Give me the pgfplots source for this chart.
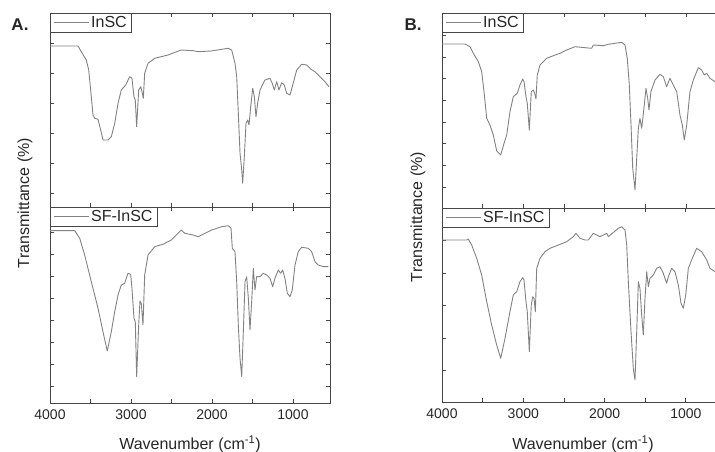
\documentclass[border=0pt]{standalone}
\usepackage{pgfplots}
\pgfplotsset{compat=1.18}
\usepackage{fontspec}
\setmainfont{Liberation Sans}

\definecolor{curve}{RGB}{130,130,130}
\definecolor{frame}{RGB}{70,70,70}

% spectra (wavenumber, transmittance in arbitrary units)
\pgfplotstableread{
wn y
4000 161
3654 161
3614 155.3
3552 147
3522 137
3498 117
3469 92
3448 88.7
3407 87.7
3374 77
3346 67
3284 67
3243 70.3
3201 83.7
3160 103.7
3120 117
3065 122
3016 130.3
2988 128.7
2963 110.3
2947 107
2930 80.3
2905 117
2880 120.3
2864 115.3
2848 108.7
2831 133.7
2790 143.7
2707 148.7
2543 152
2379 157
2235 156.3
2169 155.3
2012 156
1799 158.7
1757 157
1716 143.7
1695 130.3
1675 94
1654 54
1633 37
1621 23.7
1601 50.3
1580 83.7
1559 87
1543 82
1522 100.3
1497 118.7
1477 110.3
1457 90.3
1436 103.7
1407 117
1346 127
1284 128.7
1256 123.7
1231 117
1201 125.3
1173 117
1140 124.3
1107 122
1078 113.7
1037 112
1009 120.3
954 137
893 142.7
831 142
778 137.7
728 135.3
667 130.3
605 125.3
556 120.3
}\AInSC

\pgfplotstableread{
wn y
4000 172.3
3695 172.3
3633 164.7
3572 148
3490 121.3
3407 94.7
3346 71.3
3293 52
3243 71.3
3201 91.3
3160 108
3120 118
3078 119.7
3037 129.7
3004 128.7
2988 114.7
2963 84.7
2947 81.3
2930 26.3
2905 78
2889 102
2873 99.7
2852 78
2831 128
2790 148
2707 156.3
2605 158.7
2502 163
2379 173
2337 169.7
2235 168
2169 166.3
2086 169.7
2004 173
1880 176.3
1799 177.3
1765 174.7
1749 154.7
1716 151.3
1695 121.3
1675 78
1654 44.7
1633 26.3
1613 71.3
1592 121.3
1572 126.3
1551 104.7
1531 73
1510 101.3
1490 134.7
1469 113
1449 126.3
1407 126.3
1367 129.7
1325 128
1284 124.7
1251 116.3
1222 124.7
1181 133
1152 129.7
1127 133
1099 124.7
1070 109.7
1037 106.3
1009 113
975 138
935 151.3
893 155.7
811 154.7
770 151.3
728 141.3
688 138
626 136.3
564 136.3
}\ASFInSC

\pgfplotstableread{
wn y
4000 164
3717 164
3656 161.3
3615 154.7
3553 146.3
3512 136.3
3483 116.3
3450 89.7
3410 83
3369 73
3327 57
3278 53
3237 64.7
3204 73
3164 96.3
3123 111.3
3074 114.7
3041 123
3007 129
2991 126.3
2967 111.3
2951 104.7
2926 78
2902 116.3
2877 118
2860 114.7
2844 109
2828 133
2795 143
2712 149.7
2631 152.3
2549 154.7
2466 158
2364 161.3
2241 160.3
2159 159.7
2139 163
2016 162.3
1954 163.7
1790 165.7
1749 163
1721 149.7
1696 123
1675 83
1654 39.7
1626 18
1605 49.7
1585 79.7
1565 89.7
1544 79.7
1516 99.7
1491 119.7
1470 109.7
1454 98
1430 116.3
1380 128
1319 133.7
1278 131.3
1237 121.3
1196 129.7
1155 123
1113 116.3
1073 93
1044 83
1020 68
990 83
950 116.3
909 128
847 140.3
806 138
774 133
744 134.7
704 129.7
642 126.3
}\BInSC

\pgfplotstableread{
wn y
4000 162
3696 162
3677 163
3635 157
3573 143.7
3512 127
3450 100.3
3389 77
3327 57
3278 43.7
3225 63.7
3164 90.3
3123 107
3081 110.3
3041 120.3
3007 124.3
2991 122
2967 100.3
2951 90.3
2926 50.3
2902 97
2885 105.3
2868 103.7
2852 90.3
2835 133.7
2795 143.7
2733 150.3
2672 153.7
2589 156.3
2466 160.3
2385 165.3
2352 168.7
2303 163.7
2241 162
2200 162
2139 168.7
2057 165.3
1974 168.7
1954 165.3
1831 173.7
1790 175.3
1749 172
1728 157
1708 120.3
1675 70.3
1647 33.7
1626 22
1605 70.3
1585 120.3
1565 113.7
1544 87
1524 67
1503 103.7
1482 130.3
1462 115.3
1442 123.7
1401 127
1360 133.7
1319 135.3
1278 128.7
1237 118.7
1216 125.3
1175 133.7
1134 130.3
1093 117
1060 98.7
1032 93.7
1002 107
970 133.7
921 143.7
868 153.7
806 150.3
744 142
704 133.7
642 130.3
}\BSFInSC

\pgfplotsset{
  ftir/.style={
    scale only axis, anchor=south west,
    x dir=reverse, xmax=4000,
    xtick={1000,2000,3000,4000}, minor xtick={1500,2500,3500},
    xticklabels={}, yticklabels={}, ymin=0,
    axis line style={frame, line width=0.8pt},
    tick style={frame, line width=0.8pt},
    major tick length=4pt, minor tick length=4pt,
    ticklabel style={font=\fontsize{14}{14}\selectfont, text=black!85},
    legend style={at={(0,1)}, anchor=north west, draw=frame, line width=0.6pt,
      fill=white, font=\fontsize{16}{16}\selectfont, text=black!85,
      inner xsep=3pt, inner ysep=1pt, cells={anchor=west}},
    legend image code/.code={\draw[#1] (0pt,0pt) -- (35pt,0pt);},
  },
  bottomx/.style={xticklabels={1000,2000,3000,4000},
    xticklabel style={yshift=-3pt}},
  spec/.style={curve, line width=0.9pt, mark=none, line join=round},
}

\begin{document}
\begin{tikzpicture}[x=1pt,y=1pt]
\useasboundingbox (0,0) rectangle (715,452);

% panel A
\begin{axis}[ftir, at={(50pt,245pt)}, width=280pt, height=194pt,
  xmin=543, ymax=194, ytick={14,44,74,104,134,164}]
  \addplot[spec] table[x=wn,y=y] {\AInSC};
  \legend{InSC}
\end{axis}
\begin{axis}[ftir, bottomx, at={(50pt,49pt)}, width=280pt, height=196pt,
  xmin=543, ymax=196, ytick={17,39,61,83,105,127,149,171}]
  \addplot[spec] table[x=wn,y=y] {\ASFInSC};
  \legend{SF-InSC}
\end{axis}

% panel B (cut at the right edge in the original)
\begin{axis}[ftir, at={(442pt,244pt)}, width=273pt, height=195pt,
  xmin=642, ymax=195, ytick={21,43,65,86,108,130,151,173},
  axis x line*=box, axis y line*=left]
  \addplot[spec] table[x=wn,y=y] {\BInSC};
  \legend{InSC}
\end{axis}
\begin{axis}[ftir, bottomx, at={(442pt,50pt)}, width=273pt, height=194pt,
  xmin=642, ymax=194, ytick={32,64,97,129,162},
  axis x line*=box, axis y line*=left]
  \addplot[spec] table[x=wn,y=y] {\BSFInSC};
  \legend{SF-InSC}
\end{axis}

\begin{scope}[every node/.style={text=black!85}]
\node[font=\bfseries\fontsize{17}{17}\selectfont] at (20,427) {A.};
\node[font=\bfseries\fontsize{17}{17}\selectfont] at (413,427) {B.};
\node[rotate=90, font=\fontsize{16}{16}\selectfont] at (25,249) {Transmittance (\%)};
\node[rotate=90, font=\fontsize{16}{16}\selectfont] at (418,235) {Transmittance (\%)};
\node[font=\fontsize{16}{16}\selectfont] at (190,8) {Wavenumber (cm\textsuperscript{-1})};
\node[font=\fontsize{16}{16}\selectfont] at (583,8) {Wavenumber (cm\textsuperscript{-1})};
\end{scope}
\end{tikzpicture}
\end{document}
